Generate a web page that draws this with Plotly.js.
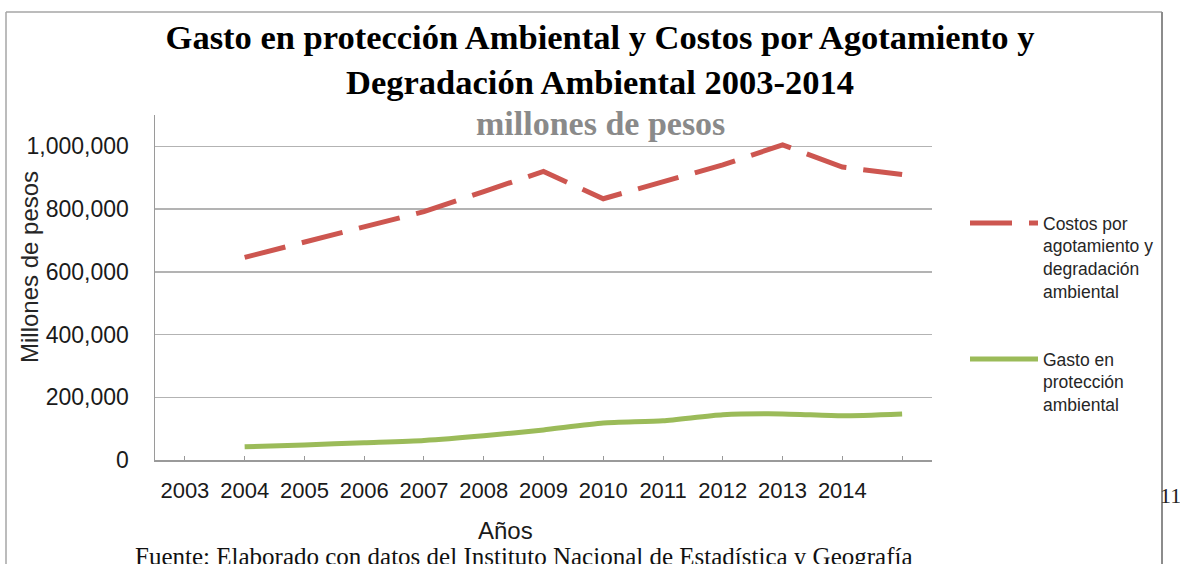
<!DOCTYPE html>
<html>
<head>
<meta charset="utf-8">
<script src="https://cdn.plot.ly/plotly-3.0.1.min.js"></script>
<style>
  html, body { margin: 0; padding: 0; background: #fff; }
  #chart { width: 1180px; height: 564px; }
</style>
</head>
<body>
<div id="chart"></div>
<script>
// ---- data (millones de pesos) ----
const yearLabels = ['2003','2004','2005','2006','2007','2008','2009','2010','2011','2012','2013','2014'];
const costosAgotamiento = [646000, 696000, 745000, 792000, 856000, 920000, 833000, 885000, 941000, 1005000, 934000, 910000];
const gastoProteccion   = [42000, 48000, 55000, 62000, 77000, 96000, 118000, 125000, 144000, 147000, 141000, 147000];
const yTicks = [0, 200000, 400000, 600000, 800000, 1000000];

const nameCostos = 'Costos por<br>agotamiento y<br>degradación<br>ambiental';
const nameGasto  = 'Gasto en<br>protección<br>ambiental';

// In the source chart each series sits one category slot to the right of its year label
const slots = yearLabels.map((_, i) => i + 1);
const tickSlots = yearLabels.map((_, i) => i).concat([yearLabels.length]);
const tickText = yearLabels.concat(['']);

// ---- layout helpers (pixel -> paper) ----
const W = 1180, H = 564;
const M = { l: 155, r: 248, t: 115, b: 104 };
const pw = W - M.l - M.r, ph = H - M.t - M.b;
const px = x => (x - M.l) / pw;
const py = y => (H - M.b - y) / ph;

const sans = 'Liberation Sans, Arial, sans-serif';
const serif = 'Liberation Serif, Times New Roman, serif';

const traces = [
  {
    x: slots, y: costosAgotamiento, type: 'scatter', mode: 'lines',
    name: nameCostos, legend: 'legend',
    line: { color: '#cd5650', width: 5, dash: '42px,17px' }
  },
  {
    x: slots, y: gastoProteccion, type: 'scatter', mode: 'lines',
    name: nameGasto, legend: 'legend2',
    line: { color: '#9bbb59', width: 5, shape: 'spline', smoothing: 0.6 }
  }
];

const legendCommon = {
  xref: 'paper', yref: 'paper', xanchor: 'left', yanchor: 'top',
  bgcolor: 'rgba(0,0,0,0)', borderwidth: 0, valign: 'top',
  itemwidth: 68, font: { family: sans, size: 17.5, color: '#262626' },
  itemclick: false, itemdoubleclick: false
};

const layout = {
  width: W, height: H,
  margin: M,
  paper_bgcolor: '#fff', plot_bgcolor: '#fff',
  title: {
    text: 'Gasto en protección Ambiental y Costos por Agotamiento y<br>Degradación Ambiental 2003-2014',
    font: { family: serif, size: 34.5, color: '#000', weight: 'bold' },
    xref: 'container', yref: 'container',
    x: 600 / W, xanchor: 'center',
    y: 1 - 49 / H, yanchor: 'top'
  },
  xaxis: {
    type: 'linear', range: [-0.5, 12.5],
    tickmode: 'array', tickvals: tickSlots, ticktext: tickText,
    ticks: 'inside', ticklen: 4, tickwidth: 1, tickcolor: '#999',
    showgrid: false, zeroline: false, showline: true, linecolor: '#9a9a9a', linewidth: 1.5,
    tickfont: { family: sans, size: 22, color: '#1a1a1a' },
    ticklabelstandoff: 10,
    fixedrange: true
  },
  yaxis: {
    range: [0, 1100000],
    tickmode: 'array', tickvals: yTicks, tickformat: ',d',
    ticks: '', showgrid: true, gridcolor: '#b3b3b3', gridwidth: 1.5,
    zeroline: false, showline: true, linecolor: '#9a9a9a', linewidth: 1.5,
    tickfont: { family: sans, size: 23, color: '#1a1a1a' },
    ticklabelstandoff: 20,
    fixedrange: true
  },
  legend: Object.assign({}, legendCommon, { x: px(965), y: py(205) }),
  legend2: Object.assign({}, legendCommon, { x: px(965), y: py(341) }),
  annotations: [
    {
      text: 'millones de pesos', xref: 'paper', yref: 'paper',
      x: px(600), y: py(123), xanchor: 'center', yanchor: 'middle', showarrow: false,
      font: { family: serif, size: 34, color: '#8a8a8a', weight: 'bold' }
    },
    {
      text: 'Millones de pesos', xref: 'paper', yref: 'paper', textangle: -90,
      x: px(29), y: py(267), xanchor: 'center', yanchor: 'middle', showarrow: false,
      font: { family: sans, size: 24, color: '#262626' }
    },
    {
      text: 'Años', xref: 'paper', yref: 'paper',
      x: px(505), y: py(530), xanchor: 'center', yanchor: 'middle', showarrow: false,
      font: { family: sans, size: 24, color: '#1a1a1a' }
    },
    {
      text: 'Fuente: Elaborado con datos del Instituto Nacional de Estadística y Geografía',
      xref: 'paper', yref: 'paper',
      x: px(133), y: py(541), xanchor: 'left', yanchor: 'top', showarrow: false,
      font: { family: serif, size: 25, color: '#111' }
    },
    {
      text: '11', xref: 'paper', yref: 'paper',
      x: px(1183), y: py(495), xanchor: 'right', yanchor: 'middle', showarrow: false,
      font: { family: serif, size: 22, color: '#222' }
    }
  ],
  shapes: [
    { type: 'line', xref: 'paper', yref: 'paper', x0: px(6), x1: px(1162), y0: py(12), y1: py(12),
      line: { color: '#a6a6a6', width: 1.5 } },
    { type: 'line', xref: 'paper', yref: 'paper', x0: px(6), x1: px(6), y0: py(12), y1: py(564),
      line: { color: '#a6a6a6', width: 1.5 } },
    { type: 'line', xref: 'paper', yref: 'paper', x0: px(1162), x1: px(1162), y0: py(12), y1: py(564),
      line: { color: '#8c8c8c', width: 2 } }
  ],
  showlegend: true
};

Plotly.newPlot('chart', traces, layout, { displayModeBar: false, staticPlot: true });
</script>
</body>
</html>
